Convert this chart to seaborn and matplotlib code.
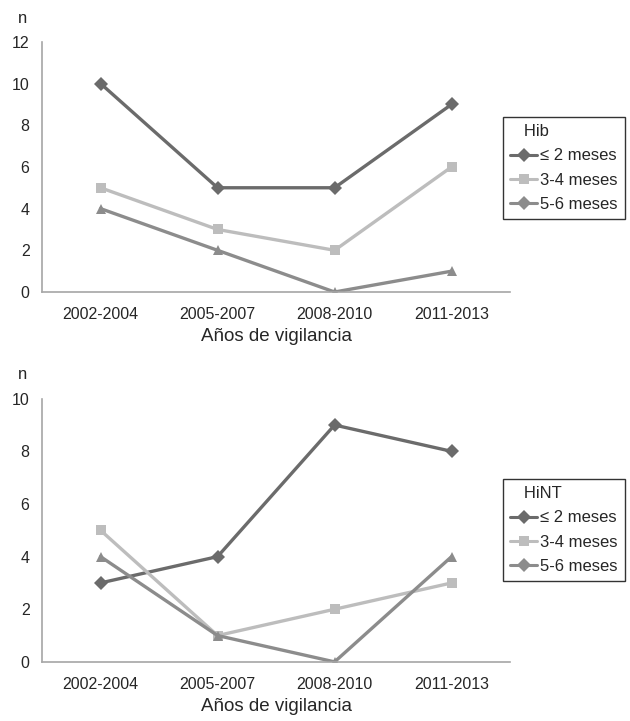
import pandas as pd
import matplotlib
matplotlib.use("Agg")
import matplotlib.pyplot as plt
from matplotlib.lines import Line2D
import seaborn as sns

periodos = ["2002-2004", "2005-2007", "2008-2010", "2011-2013"]
grupos = ["≤ 2 meses", "3-4 meses", "5-6 meses"]

hib_2 = [10, 5, 5, 9]
hib_34 = [5, 3, 2, 6]
hib_56 = [4, 2, 0, 1]

hint_2 = [3, 4, 9, 8]
hint_34 = [5, 1, 2, 3]
hint_56 = [4, 1, 0, 4]

colores = {"≤ 2 meses": "#6b6b6b", "3-4 meses": "#bdbdbd", "5-6 meses": "#8c8c8c"}
marcas = {"≤ 2 meses": "D", "3-4 meses": "s", "5-6 meses": "^"}
marcas_leyenda = {"≤ 2 meses": "D", "3-4 meses": "s", "5-6 meses": "D"}


def tabla(a, b, c):
    filas = []
    for g, vals in zip(grupos, [a, b, c]):
        for p, v in zip(periodos, vals):
            filas.append({"periodo": p, "n": v, "grupo": g})
    return pd.DataFrame(filas)


sns.set_style("white")
plt.rcParams["font.family"] = ["Liberation Sans", "DejaVu Sans"]

fig = plt.figure(figsize=(6.3, 7.21), dpi=100)
ax1 = fig.add_axes([0.0667, 0.595, 0.743, 0.347])
ax2 = fig.add_axes([0.0667, 0.082, 0.743, 0.365])


def dibujar(ax, datos, ymax, titulo, y_leyenda):
    sns.lineplot(data=datos, x="periodo", y="n", hue="grupo", style="grupo",
                 palette=colores, markers=marcas, dashes=False, sort=False,
                 linewidth=2.4, markersize=7.5, markeredgewidth=0, ax=ax,
                 legend=False)
    ax.set_xlim(-0.5, 3.5)
    ax.set_ylim(0, ymax)
    ax.set_yticks(range(0, ymax + 1, 2))
    ax.set_xticks(range(4))
    ax.set_xticklabels(periodos)
    ax.set_xticks([-0.5, 0.5, 1.5, 2.5, 3.5], minor=True)
    ax.tick_params(axis="x", which="major", length=0, labelsize=11.5, pad=11)
    ax.tick_params(axis="x", which="minor", length=5, color="#a6a6a6", width=1)
    ax.tick_params(axis="y", length=4, color="#a6a6a6", width=1, labelsize=11.5, pad=5)
    for s in ["top", "right"]:
        ax.spines[s].set_visible(False)
    for s in ["left", "bottom"]:
        ax.spines[s].set_color("#a6a6a6")
        ax.spines[s].set_linewidth(1.2)
    ax.set_xlabel("Años de vigilancia", fontsize=13.5, labelpad=4)
    ax.set_ylabel("")
    handles = [Line2D([], [], color=colores[g], marker=marcas_leyenda[g],
                      markersize=7, markeredgewidth=0, linewidth=2.2, label=g)
               for g in grupos]
    leg = fig.legend(handles=handles, title="   " + titulo, loc="upper left",
                     bbox_to_anchor=(0.798, y_leyenda), frameon=True,
                     fancybox=False, edgecolor="black", fontsize=12,
                     title_fontsize=12, handlelength=1.6, handletextpad=0.2,
                     labelspacing=0.55, borderpad=0.45, borderaxespad=0,
                     alignment="left")
    leg.get_frame().set_linewidth(1.0)


dibujar(ax1, tabla(hib_2, hib_34, hib_56), 12, "Hib", 0.838)
dibujar(ax2, tabla(hint_2, hint_34, hint_56), 10, "HiNT", 0.336)

fig.text(0.028, 0.975, "n", fontsize=12, va="center")
fig.text(0.028, 0.480, "n", fontsize=12, va="center")

fig.savefig("out.png", dpi=100)
